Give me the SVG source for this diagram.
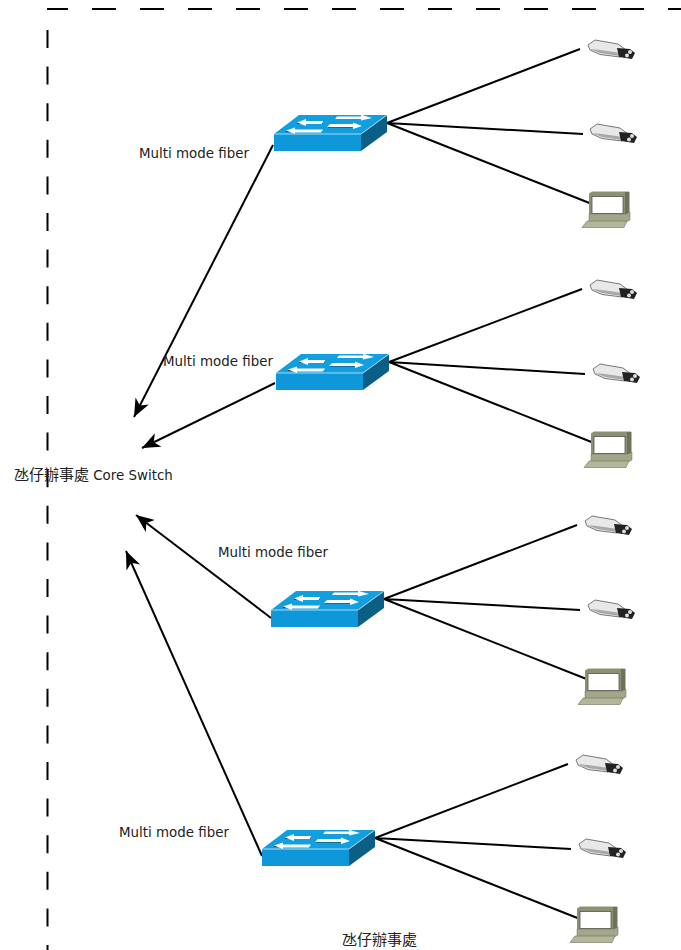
<svg xmlns="http://www.w3.org/2000/svg" width="681" height="950" viewBox="0 0 681 950">
<style>
text{font-family:"DejaVu Sans","Noto Sans CJK TC",sans-serif;font-size:13.400px;fill:#222}
.cjk{font-family:"Noto Sans CJK TC","DejaVu Sans",sans-serif;font-size:15px}
.link{stroke:#000;stroke-width:2;fill:none}
.up{stroke:#000;stroke-width:2;fill:none;marker-end:url(#ah)}
.border{stroke:#000;stroke-width:2;fill:none}
</style>
<defs>
<filter id="soft" x="-10%" y="-10%" width="120%" height="120%"><feGaussianBlur stdDeviation="0.450"/></filter>
<marker id="ah" markerUnits="userSpaceOnUse" markerWidth="20" markerHeight="18" refX="18" refY="9" orient="auto"><path d="M0 1.500L18 9L0 16.500L5 9Z" fill="#000"/></marker>
<g id="sw">
<path d="M274 134L299 115H387L361 134Z" fill="#129fe0"/>
<path d="M274 134H361V151H274Z" fill="#0e98da"/>
<path d="M361 134L387 115V132L361 151Z" fill="#0b5f86"/>
<path d="M274 134H361L387 115" fill="none" stroke="#cfeaf6" stroke-width=".8"/>
<path d="M297 123.500H323M286 131.500H322M337 117.500H364M328 127H354" fill="none" stroke="#0c3c55" stroke-width="1"/>
<path d="M297 122.500L306 119V121H323L322 124H306V126Z M337 116.500H361V114.800L372 118L361 120.500V119H335Z M330 124H353V122.500L362 126L353 129V127H327Z M286 130.500L295 127.500V129.500H323L321 132.500H295V134Z" fill="#fff"/>
</g>
<g id="nic" filter="url(#soft)">
<path d="M588 45L595 40L618 44L626 50L620 57L600 54.500L590 50Z" fill="#e8e8e8" stroke="#777" stroke-width="1" stroke-linejoin="round"/>
<path d="M590 49L600 53L620 56L621 53L600 50Z" fill="#a8a8a8"/>
<path d="M617 48L630 49L635 53L632 59L619 57Z" fill="#222"/>
<circle cx="630" cy="52" r="2" fill="#ddd"/><circle cx="627" cy="55.500" r="2" fill="#ddd"/>
</g>
<g id="pc" filter="url(#soft)">
<path d="M589 193.500L592 191.500H629V214H589Z" fill="#8d9173"/>
<path d="M625 192H629.500V214H625Z" fill="#6e7258"/>
<rect x="592" y="196.500" width="31" height="17" fill="#fff" stroke="#555" stroke-width=".8"/>
<path d="M589 214H626L630 212V220L626 222H589Z" fill="#a3a688" stroke="#6e7258" stroke-width=".5"/>
<path d="M587 221H627L624 227.500H582Z" fill="#b4b69b" stroke="#6e7258" stroke-width=".6"/>
</g>
</defs>
<g id="border">
<path class="border" d="M47 9H681" stroke-dasharray="24 24" stroke-dashoffset="3"/>
<path class="border" d="M47.500 30V950" stroke-dasharray="18 18.600"/>
</g>
<g id="connectors">
<path class="up" d="M273 145L134 417"/>
<path class="up" d="M275 383L142 448"/>
<path class="up" d="M271 618L136 515"/>
<path class="up" d="M262 856L126 551"/>
<path class="link" d="M580 49L387 123L583 134M387 123L592 204"/>
<path class="link" d="M582 289L389 362L585 374M389 362L594 443"/>
<path class="link" d="M577 525L384 599L580 610M384 599L589 680"/>
<path class="link" d="M568 764L375 838L571 849M375 838L580 919"/>
</g>
<g id="switch-1"><use href="#sw"/></g>
<g id="switch-2"><use href="#sw" x="2" y="239"/></g>
<g id="switch-3"><use href="#sw" x="-3" y="476"/></g>
<g id="switch-4"><use href="#sw" x="-12" y="715"/></g>
<g id="device-1a"><use href="#nic"/></g>
<g id="device-1b"><use href="#nic" x="2" y="84"/></g>
<g id="device-1c"><use href="#pc"/></g>
<g id="device-2a"><use href="#nic" x="2" y="240"/></g>
<g id="device-2b"><use href="#nic" x="5" y="324"/></g>
<g id="device-2c"><use href="#pc" x="2" y="240"/></g>
<g id="device-3a"><use href="#nic" x="-3" y="476"/></g>
<g id="device-3b"><use href="#nic" x="0" y="560"/></g>
<g id="device-3c"><use href="#pc" x="-4" y="477"/></g>
<g id="device-4a"><use href="#nic" x="-12" y="715"/></g>
<g id="device-4b"><use href="#nic" x="-9" y="799"/></g>
<g id="device-4c"><use href="#pc" x="-12" y="715"/></g>
<g id="labels">
<text x="139" y="158">Multi mode fiber</text>
<text x="163" y="366">Multi mode fiber</text>
<text x="218" y="557">Multi mode fiber</text>
<text x="119" y="837">Multi mode fiber</text>
<text x="14" y="480"><tspan class="cjk">氹仔辦事處</tspan> Core Switch</text>
<text x="342" y="945" class="cjk">氹仔辦事處</text>
</g>
</svg>
